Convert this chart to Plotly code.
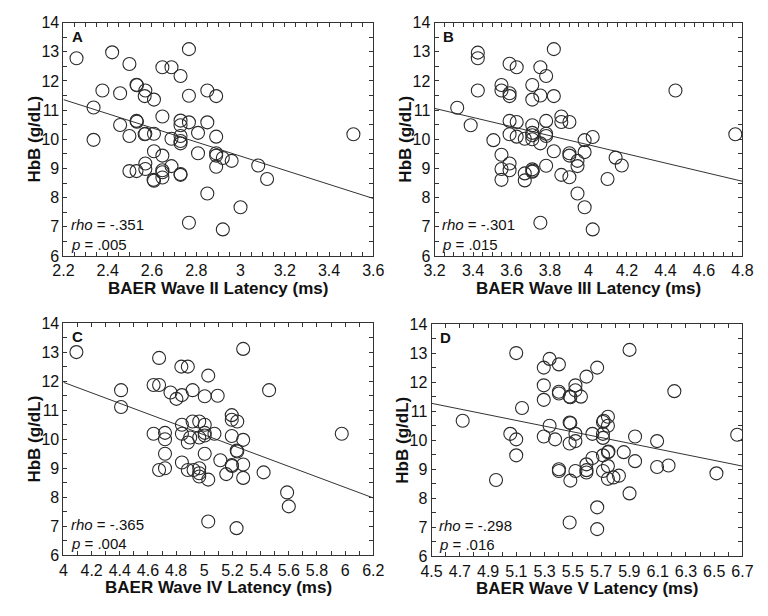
import plotly.graph_objects as go

# ---------------- data ----------------
A_latency = [2.259, 2.42, 2.498, 2.767, 2.647, 2.688, 2.729, 2.53, 2.532, 2.57, 2.567, 2.609,
             2.376, 2.456, 2.767, 2.85, 2.89, 2.336, 2.647, 2.53, 2.532, 2.456, 2.729, 2.729,
             2.767, 2.85, 2.336, 2.498, 2.57, 2.567, 2.609, 2.688, 2.729, 2.729, 2.729, 2.808,
             2.89, 3.51, 2.609, 2.647, 2.808, 2.89, 2.89, 2.92, 2.96, 3.08, 2.57, 2.498, 2.53,
             2.57, 2.647, 2.647, 2.688, 2.647, 2.609, 2.607, 2.729, 2.729, 2.89, 3.12, 2.85,
             3.0, 2.767, 2.92]
A_hbb = [12.78, 12.98, 12.58, 13.09, 12.47, 12.47, 12.17, 11.87, 11.85, 11.67, 11.48, 11.36,
         11.67, 11.58, 11.49, 11.67, 11.48, 11.09, 10.78, 10.63, 10.6, 10.49, 10.64, 10.48,
         10.58, 10.58, 9.98, 10.11, 10.19, 10.17, 10.19, 10.02, 10.11, 9.94, 9.86, 10.22,
         10.09, 10.17, 9.59, 9.44, 9.52, 9.52, 9.44, 9.36, 9.26, 9.1, 9.17, 8.91, 8.91,
         8.98, 8.94, 8.87, 9.08, 8.69, 8.58, 8.61, 8.81, 8.78, 9.06, 8.64, 8.14,
         7.67, 7.14, 6.91]
A_fit_x = [2.2, 3.6]
A_fit_y = [11.36, 7.97]

B_latency = [3.318, 3.388, 3.425, 3.425, 3.425, 3.506, 3.548, 3.548, 3.59, 3.627, 3.59, 3.59,
             3.59, 3.627, 3.59, 3.627, 3.669, 3.548, 3.548, 3.548, 3.59, 3.59, 3.669, 3.669,
             3.708, 3.708, 3.75, 3.78, 3.75, 3.82, 3.82, 3.708, 3.708, 3.708, 3.708, 3.75,
             3.78, 3.78, 3.78, 3.708, 3.708, 3.711, 3.78, 3.82, 3.859, 3.859, 3.901, 3.901,
             3.901, 3.859, 3.901, 3.943, 3.943, 3.98, 3.98, 4.022, 3.943, 3.98, 3.75, 4.022,
             4.141, 4.173, 4.099, 4.452, 4.763]
B_hbb = [11.08, 10.48, 12.97, 12.78, 11.67, 9.97, 11.86, 11.67, 12.59, 12.47, 11.58, 11.48,
         10.63, 10.59, 10.17, 10.09, 10.02, 9.47, 8.98, 8.61, 9.17, 8.94, 8.83, 8.59,
         11.86, 11.36, 12.47, 12.17, 11.5, 13.09, 11.48, 10.48, 10.22, 10.14, 10.0, 9.86,
         10.63, 10.19, 10.11, 8.97, 8.89, 8.92, 9.09, 9.59, 10.78, 10.59, 10.59, 9.52,
         9.44, 8.78, 8.7, 9.26, 9.08, 9.97, 9.56, 10.08, 8.14, 7.67, 7.14, 6.91,
         9.37, 9.1, 8.64, 11.67, 10.17]
B_fit_x = [3.2, 4.8]
B_fit_y = [11.06, 8.56]

C_latency = [4.092, 4.409, 4.409, 4.679, 4.837, 4.883, 5.028, 5.276, 4.64, 4.679, 4.76, 4.841,
             4.802, 4.917, 5.003, 5.095, 5.46, 4.841, 4.917, 4.964, 5.003, 4.64, 4.721, 4.721,
             4.841, 4.883, 4.9, 4.964, 5.003, 5.003, 5.072, 5.195, 5.195, 5.234, 5.195, 5.276,
             5.234, 5.23, 4.721, 5.003, 4.841, 4.679, 4.721, 4.883, 4.924, 4.964, 4.964, 4.964,
             5.028, 5.114, 5.195, 5.197, 5.276, 5.156, 5.276, 5.421, 5.588, 5.6, 5.976, 5.028,
             5.229]
C_hbb = [13.0, 11.69, 11.11, 12.8, 12.5, 12.5, 12.19, 13.11, 11.87, 11.87, 11.61, 11.52,
         11.39, 11.69, 11.48, 11.5, 11.69, 10.5, 10.61, 10.61, 10.5, 10.19, 10.22, 10.0,
         10.19, 9.89, 10.06, 10.06, 10.22, 10.13, 10.19, 10.83, 10.67, 10.61, 10.11, 9.98,
         9.58, 9.61, 9.5, 9.5, 9.2, 8.94, 9.0, 8.94, 8.94, 9.0, 8.83, 8.72,
         8.61, 9.28, 9.11, 9.08, 9.13, 8.8, 8.67, 8.86, 8.17, 7.69, 10.19, 7.17,
         6.94]
C_fit_x = [4.0, 6.2]
C_fit_y = [11.96, 7.98]

D_latency = [4.72, 4.956, 5.099, 5.14, 5.057, 5.099, 5.099, 5.294, 5.335, 5.401, 5.294, 5.294,
             5.401, 5.401, 5.477, 5.482, 5.518, 5.518, 5.557, 5.596, 5.672, 5.901, 6.218, 5.335,
             5.294, 5.374, 5.477, 5.482, 5.518, 5.518, 5.477, 5.638, 5.713, 5.718, 5.748, 5.748,
             5.713, 5.713, 5.94, 6.096, 5.86, 5.748, 5.752, 5.713, 5.638, 5.596, 5.596, 5.596,
             5.518, 5.401, 5.401, 5.482, 5.748, 5.713, 5.748, 5.787, 5.826, 5.94, 6.096, 6.177,
             6.516, 5.901, 5.672, 5.477, 5.672, 6.663]
D_hbb = [10.67, 8.63, 13.0, 11.11, 10.22, 10.03, 9.48, 12.5, 12.8, 12.61, 11.89, 11.39,
         11.67, 11.61, 11.5, 11.48, 11.89, 11.72, 11.5, 12.19, 12.5, 13.11, 11.69, 10.5,
         10.13, 10.03, 10.61, 10.59, 10.22, 9.97, 9.89, 10.22, 10.63, 10.67, 10.81, 10.5,
         10.22, 10.08, 10.13, 9.97, 9.59, 9.59, 9.61, 9.48, 9.39, 9.17, 8.97, 8.89,
         8.94, 9.0, 8.94, 8.61, 9.11, 8.94, 8.67, 8.72, 8.78, 9.28, 9.08, 9.13,
         8.86, 8.17, 7.69, 7.17, 6.94, 10.19]
D_fit_x = [4.5, 6.7]
D_fit_y = [11.27, 9.11]

panel_letters = ["A", "B", "C", "D"]
x_titles = ["BAER Wave II Latency (ms)", "BAER Wave III Latency (ms)",
            "BAER Wave IV Latency (ms)", "BAER Wave V Latency (ms)"]
y_title = "HbB (g/dL)"
rho_text = ["-.351", "-.301", "-.365", "-.298"]
p_text = [".005", ".015", ".004", ".016"]
x_ranges = [[2.2, 3.6], [3.2, 4.8], [4.0, 6.2], [4.5, 6.7]]
x_tick0 = [2.2, 3.2, 4.0, 4.5]
x_minor = [0.05, 0.05, 0.1, 0.1]
y_range = [6, 14]

# ---------------- layout geometry (pixels) ----------------
W, H = 768, 616
# (left, right, top, bottom) of each plot box in pixels
boxes = [(54, 373, 15, 255), (436, 753, 15, 255), (54, 373, 324, 563), (433, 753, 325, 564)]

def px(x):
    return x / W

def py(y):
    return 1 - y / H

FONT = "Liberation Sans, Arial, sans-serif"
INK = "#111111"
LINE = "#333333"

fig = go.Figure()
series = [(A_latency, A_hbb, A_fit_x, A_fit_y), (B_latency, B_hbb, B_fit_x, B_fit_y),
          (C_latency, C_hbb, C_fit_x, C_fit_y), (D_latency, D_hbb, D_fit_x, D_fit_y)]

layout = dict(width=W, height=H, margin=dict(l=0, r=0, t=0, b=0),
              paper_bgcolor="white", plot_bgcolor="white", showlegend=False,
              font=dict(family=FONT, size=16, color=INK))
annotations = []

for i, (xs, ys, fx, fy) in enumerate(series):
    n = i + 1
    xa = "x" if n == 1 else f"x{n}"
    ya = "y" if n == 1 else f"y{n}"
    l, r, t, b = boxes[i]
    fig.add_trace(go.Scatter(x=fx, y=fy, mode="lines", xaxis=xa, yaxis=ya,
                             line=dict(color=LINE, width=1), hoverinfo="skip"))
    fig.add_trace(go.Scatter(x=xs, y=ys, mode="markers", xaxis=xa, yaxis=ya,
                             marker=dict(symbol="circle-open", size=13,
                                         color="#2a2a2a", line=dict(width=1.1, color="#2a2a2a"))))
    layout[f"xaxis{'' if n == 1 else n}"] = dict(
        domain=[px(l), px(r)], anchor=ya, range=x_ranges[i], tick0=x_tick0[i], dtick=0.2,
        showgrid=False, zeroline=False, showline=True, linecolor=LINE, linewidth=1,
        mirror="allticks", ticks="inside", ticklen=4, tickcolor=LINE, tickwidth=1,
        minor=dict(ticks="inside", ticklen=4, tickcolor=LINE, tickwidth=1,
                   dtick=x_minor[i], tick0=x_tick0[i], showgrid=False),
        tickfont=dict(size=16, color=INK, family=FONT))
    layout[f"yaxis{'' if n == 1 else n}"] = dict(
        domain=[py(b), py(t)], anchor=xa, range=y_range, dtick=1,
        showgrid=False, zeroline=False, showline=True, linecolor=LINE, linewidth=1,
        mirror="allticks", ticks="inside", ticklen=4, tickcolor=LINE, tickwidth=1,
        minor=dict(ticks="inside", ticklen=4, tickcolor=LINE, tickwidth=1,
                   dtick=0.5, showgrid=False),
        tickfont=dict(size=16, color=INK, family=FONT))

    # panel letter
    annotations.append(dict(text=f"<b>{panel_letters[i]}</b>", x=px(l + 7), y=py(t + 14),
                            xref="paper", yref="paper", xanchor="left", yanchor="middle",
                            showarrow=False, font=dict(size=15, color=INK, family=FONT)))
    # stats
    annotations.append(dict(text=f"<i>rho</i> = {rho_text[i]}", x=px(l + 6), y=py(b - 32),
                            xref="paper", yref="paper", xanchor="left", yanchor="middle",
                            showarrow=False, font=dict(size=15, color=INK, family=FONT)))
    annotations.append(dict(text=f"<i>p</i> = {p_text[i]}", x=px(l + 6), y=py(b - 12),
                            xref="paper", yref="paper", xanchor="left", yanchor="middle",
                            showarrow=False, font=dict(size=15, color=INK, family=FONT)))
    # axis titles
    annotations.append(dict(text=f"<b>{x_titles[i]}</b>", x=px((l + r) / 2), y=py(b + 33),
                            xref="paper", yref="paper", xanchor="center", yanchor="middle",
                            showarrow=False, font=dict(size=17, color=INK, family=FONT)))
    annotations.append(dict(text=f"<b>{y_title}</b>", x=px(l - 30), y=py((t + b) / 2),
                            xref="paper", yref="paper", xanchor="center", yanchor="middle",
                            textangle=-90, showarrow=False,
                            font=dict(size=17, color=INK, family=FONT)))

layout["annotations"] = annotations
fig.update_layout(**layout)
fig.write_html("out.html")
